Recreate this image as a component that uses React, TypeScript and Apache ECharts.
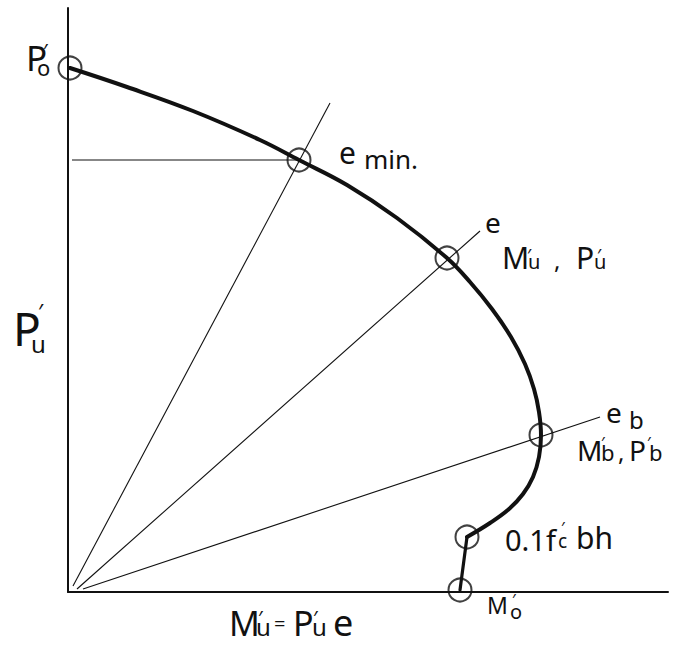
import React, { useEffect, useRef } from "react";
import * as echarts from "echarts";

// Interaction curve: axial load P'u against moment M'u (drawing units)
const curveX = [2, 59, 125, 192, 231, 279, 329, 379, 402, 424, 443, 457, 466, 471, 473, 471, 465, 455, 441, 422, 399];
const curveY = [524, 505, 481, 452, 432, 407, 374, 334, 310, 283, 255, 228, 203, 180, 157, 135, 115, 98, 83, 69, 55];

// Straight tail from the 0.1f'c bh point down to M'o
const tailX = [399, 392];
const tailY = [55, 2];

// Marked points: P'o, e min, M'u/P'u, M'b/P'b, 0.1f'c bh, M'o
const markX = [2, 231, 379, 473, 399, 392];
const markY = [524, 432, 334, 157, 55, 2];

// Eccentricity rays from the origin: e min, e, e_b
const rayStartX = [5, 9, 15];
const rayStartY = [6, 3, 3];
const rayEndX = [262, 412, 532];
const rayEndY = [489, 361, 175];

// Projection from e min back to the load axis
const projX = [4, 231];
const projY = [432, 432];

const INK = "#111";
const FONT = "'Noto Sans', 'DejaVu Sans', sans-serif";

// Hand-lettered labels, composed glyph by glyph (x = left, y = middle)
type Piece = { t: string; x: number; y: number; s: number };

const pieces: Piece[] = [
  // P'o
  { t: "P", x: 26, y: 57, s: 35 },
  { t: "′", x: 43, y: 50, s: 20 },
  { t: "o", x: 37, y: 67, s: 22 },
  // e min.
  { t: "e", x: 339, y: 152, s: 30 },
  { t: "min.", x: 364, y: 159, s: 26 },
  // e
  { t: "e", x: 485, y: 222, s: 28 },
  // M'u, P'u
  { t: "M", x: 502, y: 257, s: 30 },
  { t: "′", x: 527, y: 255, s: 18 },
  { t: "u", x: 528, y: 261, s: 20 },
  { t: ",", x: 554, y: 259, s: 24 },
  { t: "P", x: 576, y: 257, s: 30 },
  { t: "′", x: 597, y: 255, s: 18 },
  { t: "u", x: 594, y: 261, s: 20 },
  // e_b
  { t: "e", x: 606, y: 412, s: 28 },
  { t: "b", x: 629, y: 419, s: 24 },
  // M'b, P'b
  { t: "M", x: 577, y: 450, s: 28 },
  { t: "′", x: 601, y: 443, s: 16 },
  { t: "b", x: 601, y: 452, s: 22 },
  { t: ",", x: 618, y: 451, s: 24 },
  { t: "P", x: 629, y: 450, s: 28 },
  { t: "′", x: 647, y: 443, s: 16 },
  { t: "b", x: 649, y: 452, s: 22 },
  // 0.1f'c bh
  { t: "0.1f", x: 505, y: 539, s: 29 },
  { t: "′", x: 561, y: 528, s: 16 },
  { t: "c", x: 558, y: 541, s: 19 },
  { t: "bh", x: 576, y: 537, s: 30 },
  // M'o
  { t: "M", x: 487, y: 605, s: 23 },
  { t: "′", x: 512, y: 600, s: 16 },
  { t: "o", x: 510, y: 611, s: 20 },
  // P'u (load axis title)
  { t: "P", x: 13, y: 328, s: 46 },
  { t: "′", x: 38, y: 311, s: 22 },
  { t: "u", x: 31, y: 343, s: 24 },
  // M'u = P'u e (moment axis title)
  { t: "M", x: 229, y: 623, s: 34 },
  { t: "′", x: 258, y: 617, s: 20 },
  { t: "u", x: 256, y: 626, s: 24 },
  { t: "=", x: 274, y: 623, s: 20 },
  { t: "P", x: 293, y: 623, s: 34 },
  { t: "′", x: 313, y: 617, s: 20 },
  { t: "u", x: 312, y: 626, s: 24 },
  { t: "e", x: 333, y: 622, s: 36 },
];

const zip = (xs: number[], ys: number[]) => xs.map((x, i) => [x, ys[i]]);

export default function App() {
  const ref = useRef<HTMLDivElement>(null);

  useEffect(() => {
    document.body.style.margin = "0";
    if (!ref.current) return;
    const chart = echarts.init(ref.current, undefined, { renderer: "svg" });

    const rays = rayStartX.map((_, i) => ({
      type: "line",
      data: [
        [rayStartX[i], rayStartY[i]],
        [rayEndX[i], rayEndY[i]],
      ],
      symbol: "none",
      lineStyle: { color: INK, width: 1.1 },
      silent: true,
      z: 2,
    }));

    chart.setOption({
      animation: false,
      backgroundColor: "#fff",
      grid: { left: 68, right: 7, top: 8, bottom: 54 },
      xAxis: {
        type: "value",
        min: 0,
        max: 600,
        axisLine: { show: true, lineStyle: { color: INK, width: 2 } },
        axisTick: { show: false },
        axisLabel: { show: false },
        splitLine: { show: false },
      },
      yAxis: {
        type: "value",
        min: 0,
        max: 584,
        axisLine: { show: true, lineStyle: { color: INK, width: 2 } },
        axisTick: { show: false },
        axisLabel: { show: false },
        splitLine: { show: false },
      },
      series: [
        ...rays,
        {
          type: "line",
          data: zip(projX, projY),
          symbol: "none",
          lineStyle: { color: INK, width: 1.1 },
          silent: true,
          z: 2,
        },
        {
          type: "line",
          data: zip(curveX, curveY),
          smooth: 0.4,
          symbol: "none",
          lineStyle: { color: INK, width: 4, cap: "round", join: "round" },
          silent: true,
          z: 3,
        },
        {
          type: "line",
          data: zip(tailX, tailY),
          symbol: "none",
          lineStyle: { color: INK, width: 3.2, cap: "round" },
          silent: true,
          z: 3,
        },
        {
          type: "scatter",
          data: zip(markX, markY),
          symbol: "circle",
          symbolSize: 23,
          itemStyle: { color: "rgba(0,0,0,0)", borderColor: INK, borderWidth: 2 },
          silent: true,
          z: 4,
        },
      ],
      graphic: pieces.map((p) => ({
        type: "text",
        x: p.x,
        y: p.y,
        silent: true,
        style: {
          text: p.t,
          font: `${p.s}px ${FONT}`,
          fill: INK,
          align: "left",
          verticalAlign: "middle",
        },
      })),
    });

    return () => chart.dispose();
  }, []);

  return <div ref={ref} style={{ width: 675, height: 646 }} />;
}
